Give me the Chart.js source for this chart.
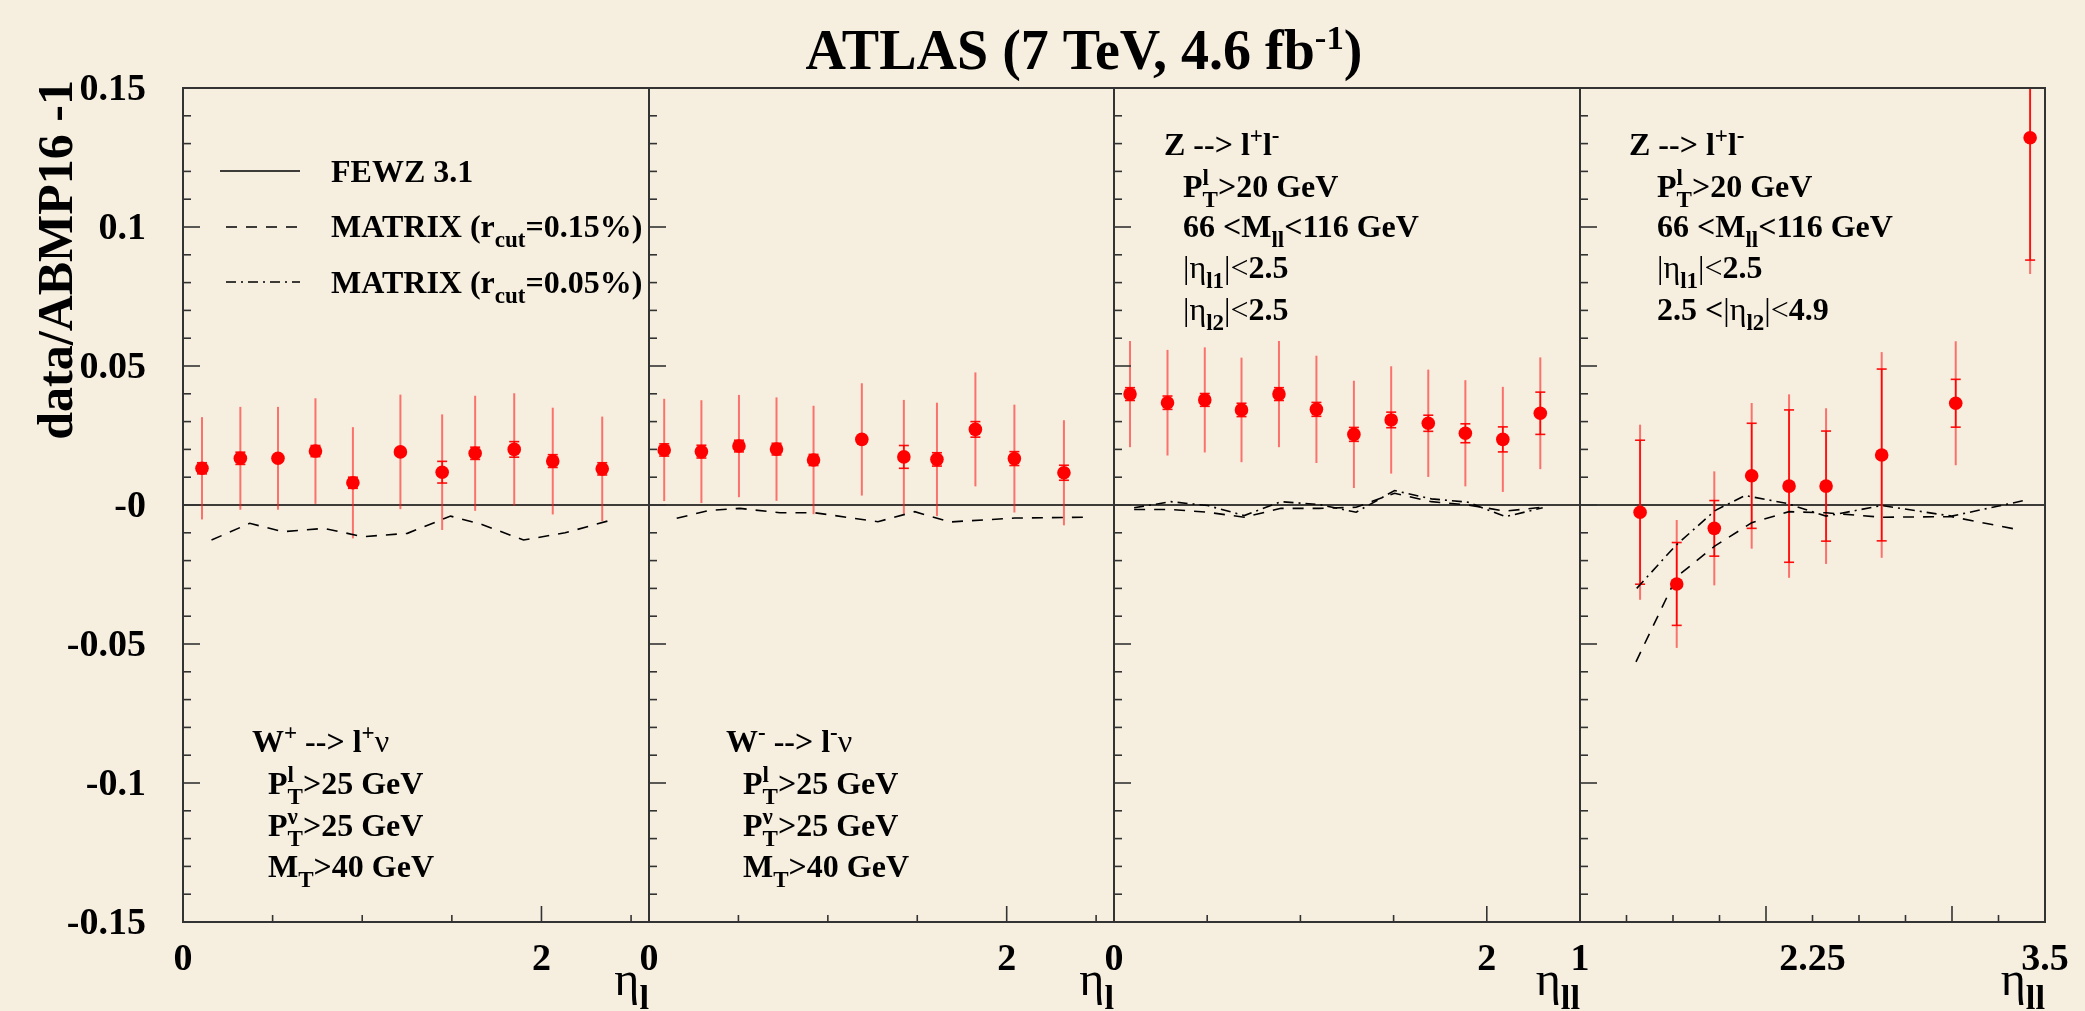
<!DOCTYPE html>
<html>
<head>
<meta charset="utf-8">
<title>ATLAS 7 TeV W/Z rapidity, data/ABMP16 - 1</title>
<script src="https://cdn.jsdelivr.net/npm/chart.js@4.4.0/dist/chart.umd.min.js"></script>
<style>
  html, body { margin: 0; padding: 0; background: #f6efe0; }
  #wrap { position: relative; width: 2085px; height: 1011px; overflow: hidden; }
  #wrap canvas { position: absolute; left: 0; top: 0; }
</style>
</head>
<body>
<div id="wrap">
  <canvas id="cWp" width="2085" height="1011"></canvas>
  <canvas id="cWm" width="2085" height="1011"></canvas>
  <canvas id="cZc" width="2085" height="1011"></canvas>
  <canvas id="cZf" width="2085" height="1011"></canvas>
</div>
<script>
// ---- datos ----

// W+ --> l+ nu
const wpEta      = [0.106, 0.320, 0.530, 0.739, 0.948, 1.213, 1.446, 1.630, 1.848, 2.063, 2.339];
const wpRatio    = [0.0132, 0.0168, 0.0168, 0.0194, 0.0080, 0.0191, 0.0118, 0.0186, 0.0200, 0.0158, 0.0130];
const wpTotErr   = [0.0184, 0.0185, 0.0185, 0.0190, 0.0200, 0.0206, 0.0208, 0.0207, 0.0202, 0.0192, 0.0188];
const wpStatErr  = [0.0020, 0.0022, 0.0010, 0.0020, 0.0020, 0.0010, 0.0039, 0.0022, 0.0028, 0.0023, 0.0022];
const wpMatrixEta = [0.159, 0.372, 0.557, 0.788, 1.002, 1.252, 1.493, 1.668, 1.900, 2.132, 2.390];
const wpMatrix15  = [-0.0126, -0.0066, -0.0096, -0.0084, -0.0114, -0.0102, -0.0040, -0.0070, -0.0126, -0.0100, -0.0054];

// W- --> l- nu
const wmEta      = [0.085, 0.293, 0.503, 0.713, 0.920, 1.190, 1.425, 1.610, 1.825, 2.043, 2.320];
const wmRatio    = [0.0198, 0.0192, 0.0212, 0.0201, 0.0162, 0.0236, 0.0173, 0.0164, 0.0272, 0.0167, 0.0116];
const wmTotErr   = [0.0184, 0.0185, 0.0184, 0.0186, 0.0195, 0.0202, 0.0205, 0.0204, 0.0205, 0.0194, 0.0189];
const wmStatErr  = [0.0022, 0.0023, 0.0021, 0.0021, 0.0020, 0.0010, 0.0041, 0.0024, 0.0028, 0.0025, 0.0027];
const wmMatrixEta = [0.155, 0.331, 0.508, 0.732, 0.927, 1.280, 1.486, 1.682, 2.045, 2.426];
const wmMatrix15  = [-0.0048, -0.0020, -0.0012, -0.0028, -0.0028, -0.0060, -0.0024, -0.0061, -0.0047, -0.0044];

// Z --> l+l-, central
const zcEta      = [0.086, 0.287, 0.487, 0.684, 0.885, 1.086, 1.287, 1.487, 1.686, 1.885, 2.086, 2.287];
const zcRatio    = [0.0399, 0.0368, 0.0378, 0.0342, 0.0399, 0.0344, 0.0254, 0.0306, 0.0294, 0.0258, 0.0236, 0.0330];
const zcTotErr   = [0.0191, 0.0190, 0.0189, 0.0188, 0.0191, 0.0193, 0.0193, 0.0193, 0.0193, 0.0191, 0.0189, 0.0201];
const zcStatErr  = [0.0023, 0.0024, 0.0023, 0.0024, 0.0023, 0.0025, 0.0025, 0.0028, 0.0029, 0.0034, 0.0045, 0.0076];
const zcMatrixEta = [0.108, 0.305, 0.502, 0.699, 0.896, 1.100, 1.299, 1.505, 1.703, 1.900, 2.100, 2.300];
const zcMatrix15  = [-0.0016, -0.0016, -0.0026, -0.0044, -0.0012, -0.0012, -0.0008, 0.0042, 0.0012, 0.0000, -0.0022, -0.0008];
const zcMatrix05  = [-0.0010, 0.0012, -0.0002, -0.0038, 0.0012, 0.0002, -0.0026, 0.0052, 0.0022, 0.0010, -0.0042, -0.0010];

// Z --> l+l-, forward
const zfEta      = [1.323, 1.520, 1.722, 1.923, 2.124, 2.323, 2.622, 3.020, 3.420];
const zfRatio    = [-0.0026, -0.0284, -0.0084, 0.0105, 0.0068, 0.0068, 0.0180, 0.0366, 0.1321];
const zfTotErr   = [0.0315, 0.0230, 0.0205, 0.0262, 0.0330, 0.0280, 0.0370, 0.0223, 0.0490];
const zfStatErr  = [0.0259, 0.0149, 0.0100, 0.0189, 0.0274, 0.0198, 0.0309, 0.0086, 0.0440];
const zfMatrix15Eta = [1.301, 1.520, 1.726, 1.923, 2.124, 2.323, 2.622, 2.998, 3.366];
const zfMatrix15    = [-0.0564, -0.0258, -0.0147, -0.0064, -0.0024, -0.0028, -0.0044, -0.0042, -0.0090];
const zfMatrix05Eta = [1.305, 1.514, 1.726, 1.887, 2.111, 2.323, 2.622, 2.998, 3.401];
const zfMatrix05    = [-0.0300, -0.0146, -0.0020, 0.0034, 0.0006, -0.0040, -0.0002, -0.0040, 0.0018];

// etiquetas de los ejes
const yTickValues = [0.15, 0.1, 0.05, 0, -0.05, -0.1, -0.15];
const yTickLabels = ['0.15', '0.1', '0.05', '-0', '-0.05', '-0.1', '-0.15'];
const wTickValues = [0, 2];
const wTickLabels = ['0', '2'];
const zcTickValues = [0, 2];
const zcTickLabels = ['0', '2'];
const zfTickValues = [1, 2.25, 3.5];
const zfTickLabels = ['1', '2.25', '3.5'];

// ---- estilo ----
const SERIF = '"Liberation Serif", "Times New Roman", serif';
const DASH = [11, 9];
const DASHDOT = [10, 5, 2, 5];
const TOP = 88, BOTTOM = 922;

function xy(xs, ys) {
    return xs.map((v, i) => ({ x: v, y: ys[i] }));
}

// texto con sub/superindices: 'texto' en negrita, {n:'..'} normal, {sup, sub} pequeño
function drawRich(ctx, x, y, parts, size, measureOnly, opt) {
    opt = opt || {};
    const scale = opt.scale || 0.72;
    const supOff = opt.supOff || 0.38;
    const subOff = opt.subOff || 0.3;
    let cx = x;
    const small = size * scale;
    for (const p of parts) {
        if (typeof p === 'string' || p.n) {
            const txt = typeof p === 'string' ? p : p.n;
            ctx.font = (typeof p === 'string' ? 'bold ' : '') + size + 'px ' + SERIF;
            if (!measureOnly) ctx.fillText(txt, cx, y);
            cx += ctx.measureText(txt).width;
        } else {
            ctx.font = 'bold ' + small + 'px ' + SERIF;
            let w = 0;
            if (p.sup) {
                if (!measureOnly) ctx.fillText(p.sup, cx, y - size * supOff);
                w = Math.max(w, ctx.measureText(p.sup).width);
            }
            if (p.sub) {
                if (!measureOnly) ctx.fillText(p.sub, cx, y + size * subOff);
                w = Math.max(w, ctx.measureText(p.sub).width);
            }
            cx += w;
        }
    }
    return cx - x;
}

function seg(ctx, x1, y1, x2, y2) {
    ctx.beginPath();
    ctx.moveTo(x1, y1);
    ctx.lineTo(x2, y2);
    ctx.stroke();
}

// notas de cada panel (posiciones en pixeles de la pagina)
const panelExtras = {
    cWp: {
        xMinor: [0.5, 1, 1.5, 2.5], xMajor: [2],
        xTickValues: wTickValues, xTickLabels: wTickLabels,
        xTitle: [{ n: 'η' }, { sub: 'l' }],
        yLabels: true,
        notes(ctx) {
            ctx.lineWidth = 1.6;
            ctx.strokeStyle = '#000';
            ctx.setLineDash([]);
            seg(ctx, 220, 171, 300, 171);
            ctx.setLineDash(DASH);
            seg(ctx, 226, 227, 300, 227);
            ctx.setLineDash(DASHDOT);
            seg(ctx, 226, 282, 300, 282);
            ctx.setLineDash([]);
            drawRich(ctx, 331, 182, ['FEWZ 3.1'], 32);
            drawRich(ctx, 331, 237, ['MATRIX (r', { sub: 'cut' }, '=0.15%)'], 32);
            drawRich(ctx, 331, 293, ['MATRIX (r', { sub: 'cut' }, '=0.05%)'], 32);
            drawRich(ctx, 252, 752, ['W', { sup: '+' }, ' --> l', { sup: '+' }, { n: 'ν' }], 32);
            drawRich(ctx, 268, 794, ['P', { sup: 'l', sub: 'T' }, '>25 GeV'], 32);
            drawRich(ctx, 268, 836, ['P', { sup: 'ν', sub: 'T' }, '>25 GeV'], 32);
            drawRich(ctx, 268, 877, ['M', { sub: 'T' }, '>40 GeV'], 32);
        }
    },
    cWm: {
        xMinor: [0.5, 1, 1.5, 2.5], xMajor: [2],
        xTickValues: wTickValues, xTickLabels: wTickLabels,
        xTitle: [{ n: 'η' }, { sub: 'l' }],
        notes(ctx) {
            drawRich(ctx, 726, 752, ['W', { sup: '-' }, ' --> l', { sup: '-' }, { n: 'ν' }], 32);
            drawRich(ctx, 743, 794, ['P', { sup: 'l', sub: 'T' }, '>25 GeV'], 32);
            drawRich(ctx, 743, 836, ['P', { sup: 'ν', sub: 'T' }, '>25 GeV'], 32);
            drawRich(ctx, 743, 877, ['M', { sub: 'T' }, '>40 GeV'], 32);
        }
    },
    cZc: {
        xMinor: [0.5, 1, 1.5], xMajor: [2],
        xTickValues: zcTickValues, xTickLabels: zcTickLabels,
        xTitle: [{ n: 'η' }, { sub: 'll' }],
        notes(ctx) {
            drawRich(ctx, 1164, 155, ['Z --> l', { sup: '+' }, 'l', { sup: '-' }], 32);
            drawRich(ctx, 1183, 197, ['P', { sup: 'l', sub: 'T' }, '>20 GeV'], 32);
            drawRich(ctx, 1183, 237, ['66 <M', { sub: 'll' }, '<116 GeV'], 32);
            drawRich(ctx, 1183, 278, [{ n: '|η' }, { sub: 'l1' }, { n: '|<' }, '2.5'], 32);
            drawRich(ctx, 1183, 320, [{ n: '|η' }, { sub: 'l2' }, { n: '|<' }, '2.5'], 32);
        }
    },
    cZf: {
        xMinor: [1.25, 1.5, 1.75, 2.25, 2.5, 2.75, 3.25], xMajor: [2, 3],
        xTickValues: zfTickValues, xTickLabels: zfTickLabels,
        xTitle: [{ n: 'η' }, { sub: 'll' }],
        notes(ctx) {
            drawRich(ctx, 1629, 155, ['Z --> l', { sup: '+' }, 'l', { sup: '-' }], 32);
            drawRich(ctx, 1657, 197, ['P', { sup: 'l', sub: 'T' }, '>20 GeV'], 32);
            drawRich(ctx, 1657, 237, ['66 <M', { sub: 'll' }, '<116 GeV'], 32);
            drawRich(ctx, 1657, 278, [{ n: '|η' }, { sub: 'l1' }, { n: '|<' }, '2.5'], 32);
            drawRich(ctx, 1657, 320, ['2.5 <', { n: '|η' }, { sub: 'l2' }, { n: '|<' }, '4.9'], 32);
        }
    }
};

// barras de error, marco, ticks y textos
const panelDecor = {
    id: 'panelDecor',
    beforeDatasetsDraw(chart) {
        const { ctx, chartArea: a } = chart;
        const x = chart.scales.x, y = chart.scales.y;
        ctx.save();
        // linea de referencia (FEWZ 3.1)
        ctx.strokeStyle = '#000';
        ctx.lineWidth = 1.6;
        const y0 = y.getPixelForValue(0);
        seg(ctx, a.left, y0, a.right, y0);

        ctx.beginPath();
        ctx.rect(a.left, a.top, a.right - a.left, a.bottom - a.top);
        ctx.clip();
        const ds = chart.data.datasets[0];
        ds.data.forEach((p, i) => {
            const px = x.getPixelForValue(p.x);
            const tot = ds.errTot[i], st = ds.errStat[i];
            ctx.strokeStyle = 'rgba(255, 30, 30, 0.6)';
            ctx.lineWidth = 2;
            seg(ctx, px, y.getPixelForValue(p.y - tot), px, y.getPixelForValue(p.y + tot));
            const yl = y.getPixelForValue(p.y - st), yh = y.getPixelForValue(p.y + st);
            ctx.strokeStyle = 'rgba(255, 0, 0, 0.95)';
            ctx.lineWidth = 1.6;
            seg(ctx, px, yl, px, yh);
            seg(ctx, px - 5, yl, px + 5, yl);
            seg(ctx, px - 5, yh, px + 5, yh);
        });
        ctx.restore();
    },
    afterDraw(chart) {
        const { ctx, chartArea: a } = chart;
        const x = chart.scales.x, y = chart.scales.y;
        const ex = panelExtras[chart.canvas.id];
        ctx.save();
        ctx.strokeStyle = '#333';
        ctx.lineWidth = 2;
        ctx.strokeRect(a.left, a.top, a.right - a.left, a.bottom - a.top);

        // ticks del eje y (hacia dentro)
        ctx.lineWidth = 1.6;
        for (let k = -14; k <= 14; k++) {
            const py = y.getPixelForValue(k / 100);
            seg(ctx, a.left, py, a.left + (k % 5 === 0 ? 17 : 8), py);
        }
        // ticks del eje x
        ex.xMinor.forEach(v => {
            const px = x.getPixelForValue(v);
            seg(ctx, px, a.bottom, px, a.bottom - 7);
        });
        ex.xMajor.forEach(v => {
            const px = x.getPixelForValue(v);
            seg(ctx, px, a.bottom, px, a.bottom - 16);
        });

        ctx.fillStyle = '#000';
        ctx.font = 'bold 38px ' + SERIF;
        ctx.textAlign = 'center';
        ctx.textBaseline = 'alphabetic';
        ex.xTickValues.forEach((v, i) => {
            ctx.fillText(ex.xTickLabels[i], x.getPixelForValue(v), 970);
        });
        ctx.textAlign = 'left';
        const w = drawRich(ctx, 0, 0, ex.xTitle, 48, true);
        drawRich(ctx, a.right - w, 995, ex.xTitle, 48);

        if (ex.yLabels) {
            ctx.font = 'bold 38px ' + SERIF;
            ctx.textAlign = 'right';
            ctx.textBaseline = 'middle';
            yTickValues.forEach((v, i) => {
                ctx.fillText(yTickLabels[i], 146, y.getPixelForValue(v) + 2);
            });
            ctx.textBaseline = 'alphabetic';
            // titulo del eje y
            ctx.save();
            ctx.translate(72, 80);
            ctx.rotate(-Math.PI / 2);
            ctx.font = 'bold 50px ' + SERIF;
            ctx.textAlign = 'right';
            ctx.fillText('data/ABMP16 -1', 0, 0);
            ctx.restore();
            ctx.textAlign = 'left';
            // titulo general
            const titleParts = ['ATLAS (7 TeV, 4.6 fb', { sup: '-1' }, ')'];
            const topt = { scale: 0.62, supOff: 0.36 };
            const ttw = drawRich(ctx, 0, 0, titleParts, 56, true, topt);
            drawRich(ctx, 1084 - ttw / 2, 69, titleParts, 56, false, topt);
        }
        ex.notes(ctx);
        ctx.restore();
    }
};

function makePanel(id, left, right, xMin, xMax, points, tot, stat, curves) {
    const datasets = [{
        label: 'data',
        data: points,
        errTot: tot,
        errStat: stat,
        showLine: false,
        pointRadius: 6.8,
        pointBackgroundColor: '#ff0000',
        pointBorderWidth: 0
    }];
    curves.forEach(c => {
        datasets.push({
            label: c.label,
            data: c.data,
            showLine: true,
            borderColor: '#000',
            borderWidth: 1.6,
            borderDash: c.dash,
            pointRadius: 0,
            tension: 0,
            fill: false
        });
    });
    return new Chart(document.getElementById(id), {
        type: 'scatter',
        data: { datasets },
        options: {
            responsive: false,
            animation: false,
            devicePixelRatio: 1,
            events: [],
            layout: { padding: { left: left, right: 2085 - right, top: TOP, bottom: 1011 - BOTTOM } },
            scales: {
                x: { type: 'linear', min: xMin, max: xMax, display: false },
                y: { type: 'linear', min: -0.15, max: 0.15, display: false }
            },
            plugins: { legend: { display: false }, tooltip: { enabled: false }, title: { display: false } }
        },
        plugins: [panelDecor]
    });
}

makePanel('cWp', 183, 649, 0, 2.6, xy(wpEta, wpRatio), wpTotErr, wpStatErr, [
    { label: 'MATRIX (r_cut=0.15%)', data: xy(wpMatrixEta, wpMatrix15), dash: DASH }
]);
makePanel('cWm', 649, 1114, 0, 2.6, xy(wmEta, wmRatio), wmTotErr, wmStatErr, [
    { label: 'MATRIX (r_cut=0.15%)', data: xy(wmMatrixEta, wmMatrix15), dash: DASH }
]);
makePanel('cZc', 1114, 1580, 0, 2.5, xy(zcEta, zcRatio), zcTotErr, zcStatErr, [
    { label: 'MATRIX (r_cut=0.15%)', data: xy(zcMatrixEta, zcMatrix15), dash: DASH },
    { label: 'MATRIX (r_cut=0.05%)', data: xy(zcMatrixEta, zcMatrix05), dash: DASHDOT }
]);
makePanel('cZf', 1580, 2045, 1, 3.5, xy(zfEta, zfRatio), zfTotErr, zfStatErr, [
    { label: 'MATRIX (r_cut=0.15%)', data: xy(zfMatrix15Eta, zfMatrix15), dash: DASH },
    { label: 'MATRIX (r_cut=0.05%)', data: xy(zfMatrix05Eta, zfMatrix05), dash: DASHDOT }
]);
</script>
</body>
</html>
